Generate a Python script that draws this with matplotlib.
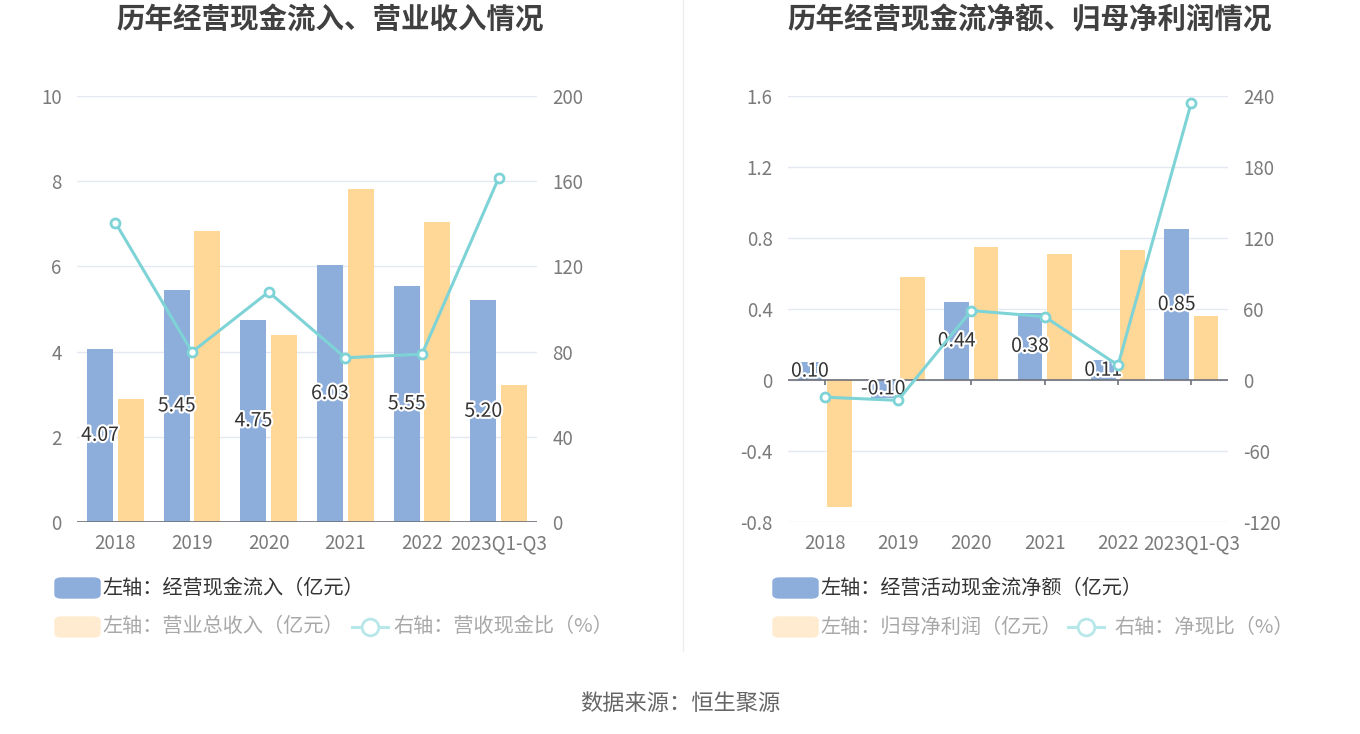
import matplotlib.pyplot as plt
import matplotlib.patheffects as pe
from matplotlib.patches import FancyBboxPatch
from matplotlib.lines import Line2D
import numpy as np

plt.rcParams['font.family'] = ['Noto Sans CJK SC', 'DejaVu Sans']

# Data
years = ['2018', '2019', '2020', '2021', '2022', '2023Q1-Q3']
cash_in = [4.07, 5.45, 4.75, 6.03, 5.55, 5.20]          # 经营现金流入 (亿元)
revenue = [2.89, 6.83, 4.39, 7.82, 7.04, 3.22]          # 营业总收入 (亿元)
cash_rev_ratio = [140.6, 79.8, 108.0, 77.1, 78.8, 161.5]  # 营收现金比 (%)

net_cash = [0.10, -0.10, 0.44, 0.38, 0.11, 0.85]        # 经营活动现金流净额 (亿元)
net_profit = [-0.715, 0.58, 0.75, 0.71, 0.73, 0.36]     # 归母净利润 (亿元)
net_ratio = [-14.5, -17.2, 58.7, 53.5, 12.5, 234.5]     # 净现比 (%)

BLUE = '#8DADDB'
ORANGE = '#FFD797'
CYAN = '#7ED3D6'
GRID = '#E3E8F2'
TICK = '#7A7A7A'
AXIS = '#6E7079'

W, H = 1360, 734
fig = plt.figure(figsize=(W / 100, H / 100), dpi=100)


def px(x0, y0, x1, y1):
    return [x0 / W, 1 - y1 / H, (x1 - x0) / W, (y1 - y0) / H]


def draw_panel(rect, bars1, bars2, ratio, ylim, yticks, ylim2, yticks2, ytl, ytl2, title, tx):
    ax = fig.add_axes(rect)
    x = np.arange(len(years))
    bw = 0.34
    ax.bar(x - 0.2, bars1, bw, color=BLUE, zorder=2)
    ax.bar(x + 0.2, bars2, bw, color=ORANGE, zorder=2)
    ax.set_xlim(-0.5, len(years) - 0.5)
    ax.set_ylim(*ylim)
    ax.set_yticks(yticks)
    ax.set_yticklabels(ytl)
    ax.set_xticks(x)
    ax.set_xticklabels(years)
    for s in ax.spines.values():
        s.set_visible(False)
    ax.tick_params(axis='y', length=0, pad=11, labelsize=13.5, labelcolor=TICK)
    ax.tick_params(axis='x', length=0, pad=8, labelsize=13.5, labelcolor=TICK)
    ax.grid(axis='y', color=GRID, lw=1, zorder=0)
    # x axis line at zero with ticks
    ax.axhline(0, color=AXIS, lw=1.2, zorder=3)
    tick_len = (ylim[1] - ylim[0]) * 5 / 426
    ax.vlines(x, -tick_len, 0, color=AXIS, lw=1.2, zorder=3)
    for xi, v in zip(x, bars1):
        ax.text(xi - 0.2, v / 2, f'{v:.2f}', ha='center', va='center', fontsize=14,
                color='#333333', zorder=6,
                path_effects=[pe.withStroke(linewidth=3, foreground='white')])
    ax2 = ax.twinx()
    ax2.plot(x, ratio, color=CYAN, lw=2.2, marker='o', ms=6.5, mfc='white',
             mec=CYAN, mew=2, zorder=5)
    ax2.set_ylim(*ylim2)
    ax2.set_yticks(yticks2)
    ax2.set_yticklabels(ytl2)
    for s in ax2.spines.values():
        s.set_visible(False)
    ax2.tick_params(axis='y', length=0, pad=11, labelsize=13.5, labelcolor=TICK)
    fig.text(tx / W, 1 - 20 / H, title, ha='center', va='center', fontsize=20.5,
             fontweight='bold', color='#404040')
    return ax


draw_panel(px(77, 96, 537, 522), cash_in, revenue, cash_rev_ratio,
           (0, 10), [0, 2, 4, 6, 8, 10], (0, 200), [0, 40, 80, 120, 160, 200],
           ['0', '2', '4', '6', '8', '10'], ['0', '40', '80', '120', '160', '200'],
           '历年经营现金流入、营业收入情况', 330)

draw_panel(px(788, 96, 1228, 522), net_cash, net_profit, net_ratio,
           (-0.8, 1.6), [-0.8, -0.4, 0, 0.4, 0.8, 1.2, 1.6], (-120, 240),
           [-120, -60, 0, 60, 120, 180, 240],
           ['-0.8', '-0.4', '0', '0.4', '0.8', '1.2', '1.6'],
           ['-120', '-60', '0', '60', '120', '180', '240'],
           '历年经营现金流净额、归母净利润情况', 1030)


# Legends
def legend_patch(x0, yc, color):
    fig.patches.append(FancyBboxPatch((x0 / W, 1 - (yc + 10) / H), 45 / W, 20 / H,
                                      boxstyle='round,pad=0,rounding_size=0.005',
                                      transform=fig.transFigure, color=color))


def legend_line(x0, yc):
    fig.add_artist(Line2D([x0 / W, (x0 + 36) / W], [1 - yc / H, 1 - yc / H],
                          color='#B8E7E9', lw=2.2, transform=fig.transFigure))
    fig.add_artist(Line2D([(x0 + 18) / W], [1 - yc / H], marker='o', ms=12,
                          mfc='white', mec='#B8E7E9', mew=2, transform=fig.transFigure))


def ltext(x0, yc, s, color):
    fig.text(x0 / W, 1 - yc / H, s, ha='left', va='center', fontsize=14.5, color=color)


legend_patch(55, 588, BLUE)
ltext(102, 588, '左轴：经营现金流入（亿元）', '#333333')
legend_patch(55, 627, '#FFEBCF')
ltext(102, 627, '左轴：营业总收入（亿元）', '#A8A8A8')
legend_line(352, 627)
ltext(393, 627, '右轴：营收现金比（%）', '#A8A8A8')

legend_patch(773, 588, BLUE)
ltext(820, 588, '左轴：经营活动现金流净额（亿元）', '#333333')
legend_patch(773, 627, '#FFEBCF')
ltext(820, 627, '左轴：归母净利润（亿元）', '#A8A8A8')
legend_line(1068, 627)
ltext(1114, 627, '右轴：净现比（%）', '#A8A8A8')

# divider and source
fig.add_artist(Line2D([683 / W, 683 / W], [1 - 651 / H, 1.0], color='#EEEEEE', lw=1,
                      transform=fig.transFigure))
fig.text(680 / W, 1 - 703 / H, '数据来源：恒生聚源', ha='center', va='center',
         fontsize=16, color='#666666')

fig.savefig('out.png', dpi=100, facecolor='white')
